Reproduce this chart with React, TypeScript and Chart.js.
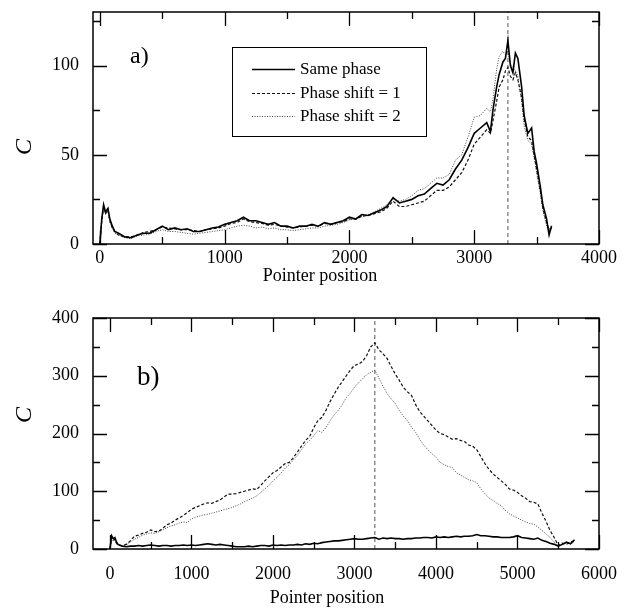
import React, { useEffect, useRef } from 'react';
import { Chart, registerables } from 'chart.js';
Chart.register(...registerables);

const SERIF = '"Liberation Serif", "Times New Roman", serif';

// ---------- Panel a) data ----------
const topX = [0, 15, 30, 45, 65, 80, 100, 120, 150,
  200, 250, 300, 350, 400, 450, 500, 550, 600, 650,
  700, 750, 800, 850, 900, 950, 1000, 1050, 1100, 1150,
  1200, 1250, 1300, 1350, 1400, 1450, 1500, 1550, 1600, 1650,
  1700, 1750, 1800, 1850, 1900, 1950, 2000, 2050, 2100, 2150,
  2200, 2250, 2300, 2350, 2400, 2450, 2500, 2550, 2600, 2650,
  2700, 2750, 2800, 2850, 2900, 2950, 3000, 3050, 3100, 3130,
  3150, 3180, 3200, 3230, 3250, 3270, 3290, 3310, 3330, 3350,
  3380, 3400, 3430, 3460, 3480, 3500, 3530, 3550, 3580, 3600,
  3620];
const topSame = [0, 14, 22, 18, 20, 14, 10, 7, 6,
  4, 3.5, 5, 6, 6, 8, 10, 8, 9, 8,
  8.5, 7, 7, 8, 9, 9.5, 11, 12, 13, 15,
  13, 13, 12, 11, 12, 10, 10, 9, 10, 10,
  11, 10, 12, 11, 12, 13, 15, 14, 16.5, 16,
  17.5, 19, 21, 26, 23, 24, 25, 27, 28, 31,
  34, 33, 36, 42, 47, 54, 62, 65, 68, 63,
  75, 88, 95, 102, 104, 114, 100, 96, 107, 104,
  88, 72, 62, 65, 52, 45, 32, 22, 14, 5,
  10];
const topShift1 = [0, 13, 21, 17, 19, 13, 9, 7, 5,
  4, 4, 5, 6.5, 7, 8, 9.5, 9, 8.5, 8,
  8, 7.5, 7, 8, 8.5, 9, 10, 11.5, 12, 14,
  12.5, 12, 11.5, 10.5, 11, 10, 9.5, 9, 9.5, 10,
  10.5, 10, 11.5, 11, 12, 12.5, 14, 14, 15.5, 16,
  17, 18, 20, 24, 21, 21, 22, 23, 24, 27,
  30, 30, 32, 36, 40, 47, 56, 60, 64, 62,
  69, 80, 88, 92, 97, 99, 94, 92, 96, 92,
  82, 70, 60, 58, 50, 42, 30, 20, 12, 8,
  9];
const topShift2 = [0, 12, 20, 17, 18, 12, 9, 6, 5,
  3.5, 3, 4.5, 5, 5.5, 7, 8, 7, 7, 6.5,
  6, 5.5, 6, 6.5, 7, 7.5, 8, 9, 10, 10.5,
  10, 9, 9.5, 8.5, 9, 8, 8, 7.5, 8, 8.5,
  9, 9, 10, 10.5, 11, 12, 13.5, 14, 15.5, 16.5,
  18, 20, 22, 25, 24, 25, 27, 30, 31, 34,
  37, 37, 39, 47, 50, 60, 71, 72, 76, 74,
  81, 98, 105, 108, 106, 108, 101, 99, 97, 94,
  80, 66, 58, 56, 48, 40, 28, 19, 10, 7,
  11];
const topMarkerX = 3270;
const topXMajor = [0, 1000, 2000, 3000, 4000];
const topXMinor = [500, 1500, 2500, 3500];
const topYMajor = [0, 50, 100];
const topYMinor = [25, 75, 125];

// ---------- Panel b) data ----------
const botX = [0, 20, 40, 60, 80, 100, 150,
  200, 250, 300, 350, 400, 450, 500, 550, 600, 650,
  700, 750, 800, 850, 900, 950, 1000, 1050, 1100, 1150,
  1200, 1250, 1300, 1350, 1400, 1450, 1500, 1550, 1600, 1650,
  1700, 1750, 1800, 1850, 1900, 1950, 2000, 2050, 2100, 2150,
  2200, 2250, 2300, 2350, 2400, 2450, 2500, 2550, 2600, 2650,
  2700, 2750, 2800, 2850, 2900, 2950, 3000, 3050, 3100, 3150,
  3200, 3250, 3300, 3350, 3400, 3450, 3500, 3550, 3600, 3650,
  3700, 3750, 3800, 3850, 3900, 3950, 4000, 4050, 4100, 4150,
  4200, 4250, 4300, 4350, 4400, 4450, 4500, 4550, 4600, 4650,
  4700, 4750, 4800, 4850, 4900, 4950, 5000, 5050, 5100, 5150,
  5200, 5250, 5300, 5350, 5400, 5450, 5500, 5550, 5600, 5650,
  5700];
const botSame = [0, 23, 18, 20, 12, 8, 5,
  4, 5, 5, 6, 5, 6, 7, 6, 5, 6,
  6, 5, 6, 6, 7, 6, 7, 6, 7, 8,
  9, 8, 7, 8, 7, 6, 5, 4, 4, 4,
  5, 4, 5, 6, 6, 5, 7, 6, 7, 6,
  7, 7, 8, 7, 9, 8, 10, 9, 11, 12,
  13, 14, 14, 15, 16, 17, 18, 17, 17, 18,
  19, 20, 17, 19, 18, 19, 18, 18, 17, 18,
  18, 19, 19, 20, 20, 19, 21, 20, 21, 20,
  21, 22, 21, 22, 22, 23, 25, 23, 23, 22,
  21, 21, 20, 20, 20, 21, 23, 20, 19, 18,
  17, 19, 15, 13, 10, 8, 5, 8, 12, 9,
  16];
const botShift1 = [0, 20, 15, 17, 10, 7, 6,
  8, 14, 22, 24, 27, 29, 33, 30, 31, 36,
  42, 45, 50, 54, 58, 63, 69, 72, 75, 78,
  80, 79, 82, 85, 90, 95, 95, 96, 98, 100,
  102, 104, 103, 110, 118, 125, 132, 136, 142, 148,
  150, 158, 168, 178, 188, 195, 210, 222, 228, 240,
  255, 268, 280, 290, 300, 310, 318, 320, 325, 335,
  350, 357, 345, 338, 330, 316, 303, 292, 280, 272,
  266, 250, 238, 230, 222, 214, 206, 200, 198, 194,
  190, 191, 188, 186, 180, 178, 172, 160, 148, 138,
  130, 124, 118, 112, 104, 102, 98, 92, 88, 82,
  81, 78, 62, 48, 32, 20, 6, 10, 8, 12,
  14];
const botShift2 = [0, 18, 14, 15, 9, 6, 5,
  7, 12, 17, 20, 24, 26, 28, 27, 30, 33,
  37, 40, 42, 45, 47, 46, 52, 55, 57, 59,
  60, 62, 64, 66, 68, 70, 72, 75, 78, 82,
  85, 88, 92, 98, 104, 110, 118, 124, 132, 140,
  146, 154, 162, 172, 182, 188, 196, 205, 202, 210,
  222, 232, 240, 250, 262, 270, 280, 288, 295, 302,
  306, 310, 296, 282, 269, 260, 252, 240, 230, 222,
  211, 202, 190, 180, 172, 165, 159, 150, 146, 143,
  141, 132, 128, 124, 120, 118, 115, 104, 96, 88,
  84, 79, 75, 67, 61, 57, 54, 50, 47, 44,
  43, 38, 32, 26, 20, 12, 5, 8, 10, 9,
  12];
const botMarkerX = 3250;
const botXMajor = [0, 1000, 2000, 3000, 4000, 5000, 6000];
const botXMinor = [500, 1500, 2500, 3500, 4500, 5500];
const botYMajor = [0, 100, 200, 300, 400];
const botYMinor = [50, 150, 250, 350];

const seriesNames = ['Same phase', 'Phase shift = 1', 'Phase shift = 2'];

const STYLES = [
  { color: '#000000', width: 1.6, dash: [] as number[] },
  { color: '#111111', width: 1.2, dash: [3, 2] },
  { color: '#444444', width: 1.0, dash: [1, 1.5] },
];

const pts = (xs: number[], ys: number[]) => xs.map((x, i) => ({ x, y: ys[i] }));

const framePlugin = {
  id: 'frameAnno',
  afterDraw(chart: any, _args: any, opts: any) {
    const { ctx, chartArea: a, scales } = chart;
    const x = scales.x, y = scales.y;
    ctx.save();
    ctx.strokeStyle = '#000';
    ctx.lineWidth = 1.5;
    ctx.setLineDash([]);
    ctx.strokeRect(a.left, a.top, a.right - a.left, a.bottom - a.top);
    ctx.lineWidth = 1.3;
    ctx.beginPath();
    const xt = (vals: number[], len: number) => vals.forEach((v) => {
      const p = Math.round(x.getPixelForValue(v)) + 0.5;
      ctx.moveTo(p, a.bottom); ctx.lineTo(p, a.bottom - len);
      ctx.moveTo(p, a.top); ctx.lineTo(p, a.top + len);
    });
    const yt = (vals: number[], len: number) => vals.forEach((v) => {
      const p = Math.round(y.getPixelForValue(v)) + 0.5;
      ctx.moveTo(a.left, p); ctx.lineTo(a.left + len, p);
      ctx.moveTo(a.right, p); ctx.lineTo(a.right - len, p);
    });
    xt(opts.xMajor, 14); xt(opts.xMinor, 7);
    yt(opts.yMajor, 14); yt(opts.yMinor, 7);
    ctx.stroke();

    ctx.fillStyle = '#000';
    ctx.font = `18px ${SERIF}`;
    ctx.textAlign = 'center';
    ctx.textBaseline = 'middle';
    ctx.fillText(opts.xTitle.text, opts.xTitle.x, opts.xTitle.y);
    ctx.save();
    ctx.translate(opts.yTitle.x, opts.yTitle.y);
    ctx.rotate(-Math.PI / 2);
    ctx.font = `italic 24px ${SERIF}`;
    ctx.fillText(opts.yTitle.text, 0, 0);
    ctx.restore();
    ctx.font = `${opts.panel.size}px ${SERIF}`;
    ctx.textAlign = 'left';
    ctx.textBaseline = 'alphabetic';
    ctx.fillText(opts.panel.text, opts.panel.x, opts.panel.y);

    if (opts.legend) {
      const L = opts.legend;
      ctx.fillStyle = '#fff';
      ctx.fillRect(L.x, L.y, L.w, L.h);
      ctx.strokeStyle = '#000';
      ctx.lineWidth = 1;
      ctx.strokeRect(L.x + 0.5, L.y + 0.5, L.w, L.h);
      ctx.font = `17px ${SERIF}`;
      ctx.textBaseline = 'middle';
      ctx.fillStyle = '#000';
      L.rows.forEach((ry: number, i: number) => {
        const s = STYLES[i];
        ctx.strokeStyle = s.color;
        ctx.lineWidth = s.width;
        ctx.setLineDash(s.dash);
        ctx.beginPath();
        ctx.moveTo(L.lineX0, ry + 0.5);
        ctx.lineTo(L.lineX1, ry + 0.5);
        ctx.stroke();
        ctx.setLineDash([]);
        ctx.fillText(seriesNames[i], L.textX, ry + 1);
      });
    }
    ctx.restore();
  },
};

function buildConfig(p: any) {
  const ds = p.series.map((ys: number[], i: number) => ({
    label: seriesNames[i],
    data: pts(p.xs, ys),
    borderColor: STYLES[i].color,
    borderWidth: STYLES[i].width,
    borderDash: STYLES[i].dash,
    pointRadius: 0,
    fill: false,
    tension: 0,
  }));
  ds.push({
    label: 'marker',
    data: [{ x: p.marker, y: p.yMin }, { x: p.marker, y: p.yMax }],
    borderColor: '#555555',
    borderWidth: 1,
    borderDash: [4, 3],
    pointRadius: 0,
    fill: false,
    tension: 0,
  });
  return {
    type: 'line',
    data: { datasets: ds },
    plugins: [framePlugin],
    options: {
      responsive: false,
      animation: false,
      devicePixelRatio: 1,
      layout: { padding: { top: p.padTop, right: 31, left: 0, bottom: 0 } },
      plugins: {
        legend: { display: false },
        tooltip: { enabled: false },
        frameAnno: p.anno,
      },
      scales: {
        x: {
          type: 'linear',
          min: p.xMin,
          max: p.xMax,
          grid: { display: false, drawTicks: false },
          border: { display: false },
          ticks: {
            color: '#000',
            font: { family: SERIF, size: 18 },
            padding: p.xPad,
            maxRotation: 0,
            autoSkip: false,
            callback: (v: any) => String(v),
          },
          afterBuildTicks: (s: any) => { s.ticks = p.xLabels.map((v: number) => ({ value: v })); },
          afterFit: (s: any) => { s.height = p.xHeight; s.paddingLeft = 0; s.paddingRight = 0; },
        },
        y: {
          type: 'linear',
          min: p.yMin,
          max: p.yMax,
          grid: { display: false, drawTicks: false },
          border: { display: false },
          ticks: {
            color: '#000',
            font: { family: SERIF, size: 18 },
            padding: 14,
            callback: (v: any) => String(v),
          },
          afterBuildTicks: (s: any) => { s.ticks = p.yLabels.map((v: number) => ({ value: v })); },
          afterFit: (s: any) => { s.width = 93; s.paddingTop = 0; s.paddingBottom = 0; },
        },
      },
    },
  };
}

function ChartCanvas({ cfg, width, height, top }: any) {
  const ref = useRef<HTMLCanvasElement>(null);
  useEffect(() => {
    if (!ref.current) return;
    const c = new Chart(ref.current, cfg as any);
    return () => c.destroy();
  }, []);
  return (
    <canvas
      ref={ref}
      width={width}
      height={height}
      style={{ position: 'absolute', left: 0, top, width, height }}
    />
  );
}

export default function App() {
  const topCfg = buildConfig({
    xs: topX,
    series: [topSame, topShift1, topShift2],
    marker: topMarkerX,
    xMin: -55, xMax: 4000, yMin: 0, yMax: 130,
    padTop: 12, xHeight: 46, xPad: 3,
    xLabels: topXMajor, yLabels: topYMajor,
    anno: {
      xMajor: topXMajor, xMinor: topXMinor, yMajor: topYMajor, yMinor: topYMinor,
      xTitle: { text: 'Pointer position', x: 320, y: 276 },
      yTitle: { text: 'C', x: 25, y: 147 },
      panel: { text: 'a)', x: 130, y: 63, size: 24 },
      legend: { x: 232, y: 47, w: 194, h: 89, rows: [69, 93, 116], lineX0: 252, lineX1: 295, textX: 300 },
    },
  });
  const botCfg = buildConfig({
    xs: botX,
    series: [botSame, botShift1, botShift2],
    marker: botMarkerX,
    xMin: -208, xMax: 6000, yMin: 0, yMax: 400,
    padTop: 28, xHeight: 63, xPad: 14,
    xLabels: botXMajor, yLabels: botYMajor,
    anno: {
      xMajor: botXMajor, xMinor: botXMinor, yMajor: botYMajor, yMinor: botYMinor,
      xTitle: { text: 'Pointer position', x: 327, y: 308 },
      yTitle: { text: 'C', x: 25, y: 125 },
      panel: { text: 'b)', x: 137, y: 95, size: 27 },
      legend: null,
    },
  });
  return (
    <div style={{ position: 'absolute', left: 0, top: 0, width: 630, height: 612, background: '#fff' }}>
      <ChartCanvas cfg={topCfg} width={630} height={290} top={0} />
      <ChartCanvas cfg={botCfg} width={630} height={322} top={290} />
    </div>
  );
}
